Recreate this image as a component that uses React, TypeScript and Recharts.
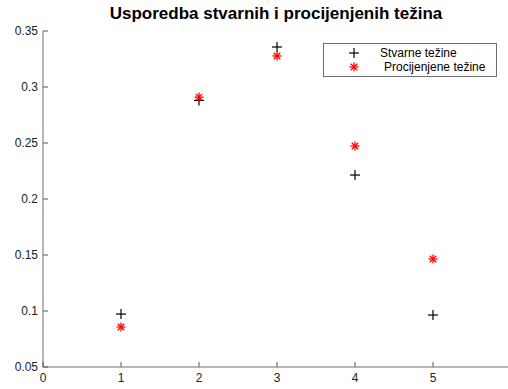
import React from "react";
import {
	Legend,
	Scatter,
	ScatterChart,
	XAxis,
	YAxis,
} from "recharts";

const positions = [1, 2, 3, 4, 5];
const stvarne = [0.0973, 0.288, 0.3357, 0.2214, 0.0964];
const procijenjene = [0.0857, 0.291, 0.3277, 0.2473, 0.1464];
const xTicks = [0, 1, 2, 3, 4, 5, 6];
const yTicks = [0.05, 0.1, 0.15, 0.2, 0.25, 0.3, 0.35];

const AXIS = "#6f6f6f";
const FONT = "'Liberation Sans', Arial, sans-serif";

const stvarneData = positions.map((x, i) => ({ x, y: stvarne[i] }));
const procData = positions.map((x, i) => ({ x, y: procijenjene[i] }));

function PlusShape({ cx, cy }: { cx?: number; cy?: number }) {
	if (cx == null || cy == null) return null;
	return (
		<g stroke="#000" strokeWidth={1.2}>
			<line x1={cx - 5} y1={cy} x2={cx + 5} y2={cy} />
			<line x1={cx} y1={cy - 5} x2={cx} y2={cy + 5} />
		</g>
	);
}

function StarShape({ cx, cy }: { cx?: number; cy?: number }) {
	if (cx == null || cy == null) return null;
	const r = 4.5;
	const d = r * 0.72;
	return (
		<g stroke="#ff0000" strokeWidth={1.3}>
			<line x1={cx - r} y1={cy} x2={cx + r} y2={cy} />
			<line x1={cx} y1={cy - r} x2={cx} y2={cy + r} />
			<line x1={cx - d} y1={cy - d} x2={cx + d} y2={cy + d} />
			<line x1={cx - d} y1={cy + d} x2={cx + d} y2={cy - d} />
		</g>
	);
}

type TickProps = { x?: number; y?: number; payload?: { value: number } };

// matlab style ticks: short marks pointing into the plot
function BottomTick({ x = 0, y = 0, payload }: TickProps) {
	return (
		<g>
			<line x1={x} y1={y} x2={x} y2={y - 5} stroke="#555" />
			<text x={x} y={y + 15} textAnchor="middle" fill="#222" fontSize={12} fontFamily={FONT}>
				{payload?.value}
			</text>
		</g>
	);
}

function TopTick({ x = 0, y = 0 }: TickProps) {
	return <line x1={x} y1={y} x2={x} y2={y + 5} stroke="#555" />;
}

function LeftTick({ x = 0, y = 0, payload }: TickProps) {
	const v = payload ? Number(payload.value.toFixed(2)) : "";
	return (
		<g>
			<line x1={x} y1={y} x2={x + 5} y2={y} stroke="#555" />
			<text x={x - 5} y={y + 4} textAnchor="end" fill="#222" fontSize={12} fontFamily={FONT}>
				{v}
			</text>
		</g>
	);
}

function RightTick({ x = 0, y = 0 }: TickProps) {
	return <line x1={x} y1={y} x2={x - 5} y2={y} stroke="#555" />;
}

function LegendBox() {
	const row = { display: "flex", alignItems: "center", height: 14 };
	return (
		<div
			style={{
				border: `1px solid ${AXIS}`,
				background: "#fff",
				width: 172,
				padding: "2px 0",
				fontFamily: FONT,
				fontSize: 12,
				color: "#000",
			}}
		>
			<div style={row}>
				<svg width={56} height={14}>
					<PlusShape cx={30} cy={7} />
				</svg>
				<span>Stvarne težine</span>
			</div>
			<div style={row}>
				<svg width={56} height={14}>
					<StarShape cx={30} cy={7} />
				</svg>
				<span style={{ marginLeft: 4 }}>Procijenjene težine</span>
			</div>
		</div>
	);
}

export default function App() {
	return (
		<div style={{ position: "absolute", left: 0, top: 0, width: 508, height: 389, overflow: "hidden", background: "#fff" }}>
			<div
				style={{
					position: "absolute",
					left: 0,
					top: 4,
					width: 552,
					textAlign: "center",
					fontFamily: FONT,
					fontWeight: "bold",
					fontSize: 17,
					color: "#000",
				}}
			>
				Usporedba stvarnih i procijenjenih težina
			</div>
			<ScatterChart
				width={520}
				height={389}
				margin={{ top: 31, right: 9, left: 0, bottom: 0 }}
			>
				<XAxis
					xAxisId="bottom"
					type="number"
					dataKey="x"
					domain={[0, 6]}
					ticks={xTicks}
					height={22}
					stroke={AXIS}
					tickLine={false}
					tickSize={0}
					tickMargin={0}
					tick={BottomTick}
				/>
				<XAxis
					xAxisId="top"
					orientation="top"
					type="number"
					dataKey="x"
					domain={[0, 6]}
					ticks={xTicks}
					height={0}
					stroke={AXIS}
					tickLine={false}
					tickSize={0}
					tickMargin={0}
					tick={TopTick}
				/>
				<YAxis
					yAxisId="left"
					type="number"
					dataKey="y"
					domain={[0.05, 0.35]}
					ticks={yTicks}
					width={43}
					stroke={AXIS}
					tickLine={false}
					tickSize={0}
					tickMargin={0}
					tick={LeftTick}
				/>
				<YAxis
					yAxisId="right"
					orientation="right"
					type="number"
					dataKey="y"
					domain={[0.05, 0.35]}
					ticks={yTicks}
					width={0}
					stroke={AXIS}
					tickLine={false}
					tickSize={0}
					tickMargin={0}
					tick={RightTick}
				/>
				<Legend
					layout="vertical"
					align="center"
					verticalAlign="middle"
					wrapperStyle={{ position: "absolute", left: 323, top: 43, width: 174 }}
					content={() => <LegendBox />}
				/>
				<Scatter
					name="Stvarne težine"
					data={stvarneData}
					xAxisId="bottom"
					yAxisId="left"
					shape={PlusShape}
					isAnimationActive={false}
				/>
				<Scatter
					name="Procijenjene težine"
					data={procData}
					xAxisId="bottom"
					yAxisId="left"
					shape={StarShape}
					isAnimationActive={false}
				/>
			</ScatterChart>
		</div>
	);
}
